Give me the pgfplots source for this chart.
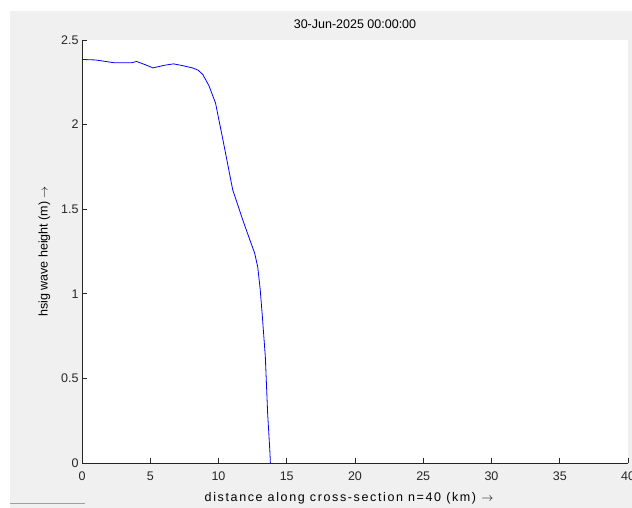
\documentclass[border=0pt]{standalone}
\usepackage{pgfplots}
\pgfplotsset{compat=1.18}
\usepackage{fontspec}
\setmainfont{Liberation Sans}
\definecolor{figgray}{RGB}{240,240,240}
\definecolor{linegray}{RGB}{160,160,160}
\begin{document}
\begin{tikzpicture}[x=1pt,y=1pt]
\clip (0,0) rectangle (632,508);
\fill[white] (0,0) rectangle (632,508);
\fill[figgray] (10,0) rectangle (632,497);
\draw[linegray, line width=0.8pt] (10,5) -- (85,5);
\begin{axis}[
    at={(82pt,45pt)}, anchor=south west,
    scale only axis,
    width=546pt, height=423pt,
    xmin=0, xmax=40, ymin=0, ymax=2.5,
    axis x line*=bottom, axis y line*=left,
    axis line style={black!85, line width=0.6pt, -},
    tick align=inside,
    major tick length=5pt,
    tick style={black!85, line width=0.6pt},
    xtick={0,5,...,40}, ytick={0,0.5,...,2.5},
    yticklabel style={/pgf/number format/fixed},
    xticklabel style={yshift=-5pt},
    /pgf/number format/assume math mode=true,
    ticklabel style={font=\fontsize{12.5}{14}\selectfont, text=black!85},
    axis background/.style={fill=white},
    title={30-Jun-2025 00:00:00},
    title style={font=\fontsize{12.5}{14}\selectfont, at={(0.5,1)}, anchor=south, yshift=2pt},
    xlabel={\addfontfeatures{LetterSpace=13}distance along cross-section n=40 (km) $\rightarrow$},
    ylabel={hsig wave height (m) $\rightarrow$},
    label style={font=\fontsize{12.5}{14}\selectfont},
    xlabel style={yshift=-5pt, xshift=-6pt},
    ylabel style={yshift=4pt},
]
\addplot[blue, line width=0.8pt] coordinates {
    (0,2.385) (1.0,2.382) (2.4,2.365) (3.6,2.365) (4.0,2.373)
    (4.6,2.355) (5.2,2.335) (6.0,2.350) (6.7,2.359) (7.4,2.348)
    (8.1,2.335) (8.5,2.322) (8.85,2.296) (9.3,2.230) (9.78,2.128)
    (10.3,1.92) (11.04,1.615) (11.77,1.438) (12.38,1.30)
    (12.65,1.24) (12.87,1.16) (13.05,1.03) (13.2,0.88) (13.43,0.629)
    (13.6,0.294) (13.77,0.06) (13.8,0)
};
\end{axis}
\end{tikzpicture}
\end{document}
